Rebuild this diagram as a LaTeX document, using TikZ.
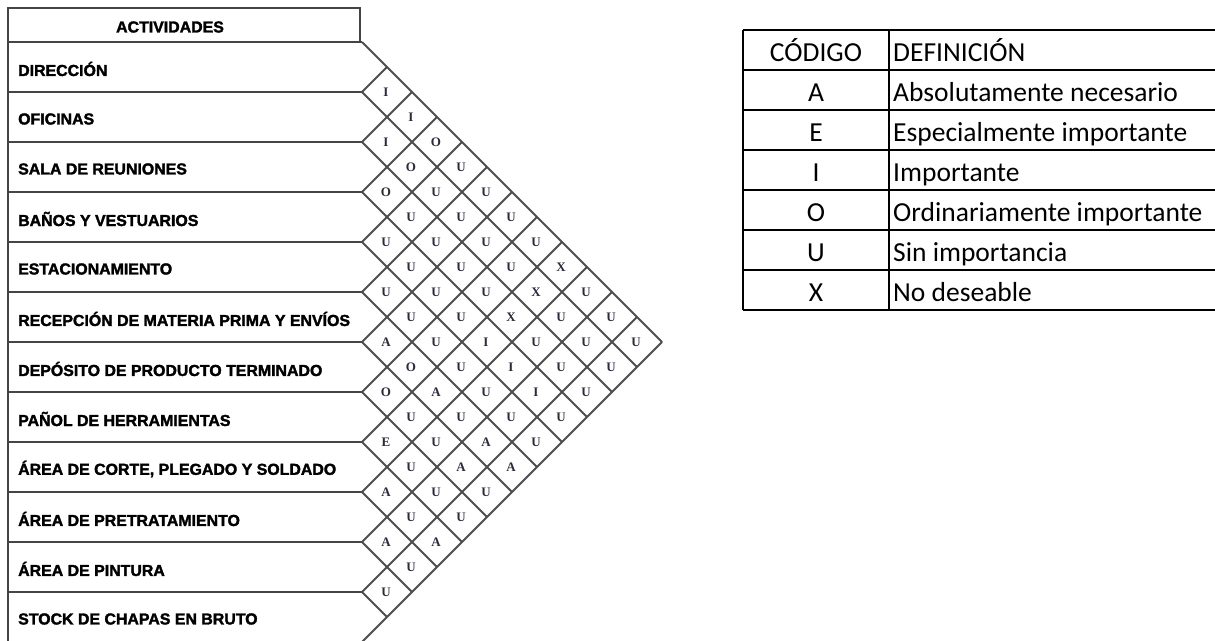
\documentclass[tikz,border=0pt]{standalone}
\usepackage{fontspec}
\setmainfont{Liberation Sans}
\newfontfamily\labfont{Liberation Sans}[FakeBold=2]
\newfontfamily\relfont{Liberation Serif}
\newfontfamily\legfont{Carlito}
\definecolor{gridc}{HTML}{4E4E4E}
\definecolor{rowc}{HTML}{444444}
\definecolor{relc}{HTML}{2A2A3A}
\tikzset{
  gridline/.style={draw=gridc, line width=1.8pt},
  rowline/.style={draw=rowc, line width=1.8pt},
  actlabel/.style={anchor=west, inner sep=0pt, font=\labfont\bfseries\fontsize{15.9}{15.9}\selectfont},
  rel/.style={inner sep=0pt, text=relc, font=\relfont\bfseries\fontsize{13}{13}\selectfont},
  legline/.style={draw=black, line width=2.3pt},
  legtext/.style={anchor=base west, inner sep=0pt, font=\legfont\fontsize{27.5}{27.5}\selectfont},
  legcode/.style={anchor=base, inner sep=0pt, font=\legfont\fontsize{27.5}{27.5}\selectfont}
}
\begin{document}
\begin{tikzpicture}[x=1pt,y=-1pt]
\useasboundingbox (0,0) rectangle (1215,640);
\begin{scope}
\clip (0,0) rectangle (1215,640);
% activities table
\draw[rowline] (8,8) rectangle (360,42);
\draw[rowline] (360,42) -- (362,42);
\draw[rowline, line width=2.3pt] (8,8) -- (8,645);
\foreach \k in {1,...,11} \draw[rowline] (8,{42+50*\k}) -- (362,{42+50*\k});
% diamond grid
\foreach \k in {0,...,11} \draw[gridline] (362,{42+50*\k}) -- ++({300-25*\k},{300-25*\k});
\foreach \k in {1,...,12} \draw[gridline] (362,{42+50*\k}) -- ++({25*\k},{-25*\k});
\end{scope}
\node[actlabel, anchor=center] (hdr) at (170,27) {ACTIVIDADES};
\foreach \n/\t [count=\r] in {
  a1/DIRECCIÓN, a2/OFICINAS, a3/SALA DE REUNIONES, a4/BAÑOS Y VESTUARIOS,
  a5/ESTACIONAMIENTO, a6/RECEPCIÓN DE MATERIA PRIMA Y ENVÍOS,
  a7/DEPÓSITO DE PRODUCTO TERMINADO, a8/PAÑOL DE HERRAMIENTAS,
  a9/{ÁREA DE CORTE, PLEGADO Y SOLDADO}, a10/ÁREA DE PRETRATAMIENTO,
  a11/ÁREA DE PINTURA, a12/STOCK DE CHAPAS EN BRUTO}
  \node[actlabel] (\n) at (18,{17+50*\r+2}) {\t};
% relationship letters
\foreach \i/\j/\l in {
 1/2/I,1/3/I,1/4/O,1/5/U,1/6/U,1/7/U,1/8/U,1/9/X,1/10/U,1/11/U,1/12/U,
 2/3/I,2/4/O,2/5/U,2/6/U,2/7/U,2/8/U,2/9/X,2/10/U,2/11/U,2/12/U,
 3/4/O,3/5/U,3/6/U,3/7/U,3/8/U,3/9/X,3/10/U,3/11/U,3/12/U,
 4/5/U,4/6/U,4/7/U,4/8/U,4/9/I,4/10/I,4/11/I,4/12/U,
 5/6/U,5/7/U,5/8/U,5/9/U,5/10/U,5/11/U,5/12/U,
 6/7/A,6/8/O,6/9/A,6/10/U,6/11/A,6/12/A,
 7/8/O,7/9/U,7/10/U,7/11/A,7/12/U,
 8/9/E,8/10/U,8/11/U,8/12/U,
 9/10/A,9/11/U,9/12/A,
 10/11/A,10/12/U,
 11/12/U}
  \node[rel] (r\i-\j) at ({361+25*(\j-\i)},{17+25*(\i+\j)}) {\l};
% legend table
\foreach \k in {0,...,7} \draw[legline] (743,{30+40*\k}) -- (1215,{30+40*\k});
\draw[legline] (743,30) -- (743,310);
\draw[legline] (889,30) -- (889,310);
\node[legcode] (c0) at (816,61) {CÓDIGO};
\node[legtext] (d0) at (893,61) {DEFINICIÓN};
\foreach \c/\d [count=\r] in {A/Absolutamente necesario, E/Especialmente importante,
  I/Importante, O/Ordinariamente importante, U/Sin importancia, X/No deseable}
{
  \node[legcode] (c\r) at (816,{61+40*\r}) {\c};
  \node[legtext] (d\r) at (893,{61+40*\r}) {\d};
}
\end{tikzpicture}
\end{document}
